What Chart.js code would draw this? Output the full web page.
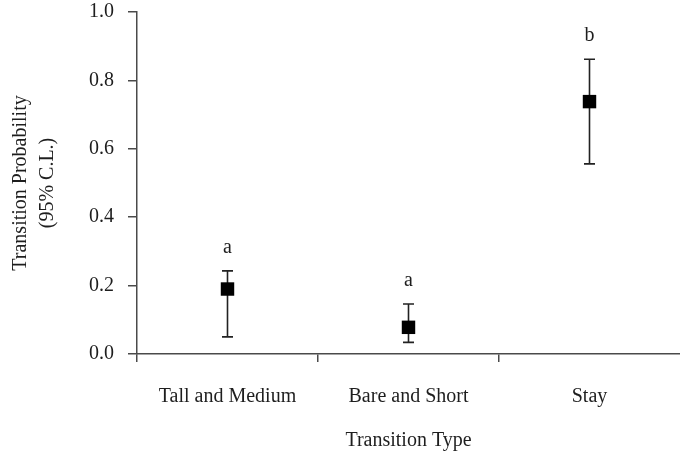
<!DOCTYPE html>
<html>
<head>
<meta charset="utf-8">
<script src="https://cdn.jsdelivr.net/npm/chart.js@4"></script>
<style>
  html, body { margin: 0; padding: 0; background: #fff; }
  #wrap { width: 680px; height: 454px; }
</style>
</head>
<body>
<div id="wrap"><canvas id="c" width="680" height="454"></canvas></div>
<script>
const categories = ["Tall and Medium", "Bare and Short", "Stay"];
const probability = [0.19, 0.078, 0.738];
const upperCL = [0.243, 0.146, 0.862];
const lowerCL = [0.05, 0.034, 0.556];
const groupLetters = ["a", "a", "b"];
const yTicks = [0.0, 0.2, 0.4, 0.6, 0.8, 1.0];

const FONT = "'Liberation Serif', 'Times New Roman', serif";
const AXIS = "#4a4a4a";
const TEXT = "#1e1e1e";

const errorBars = {
  id: 'errorBars',
  beforeDatasetsDraw(chart) {
    const ctx = chart.ctx;
    const xs = chart.scales.x, ys = chart.scales.y;
    ctx.save();
    ctx.strokeStyle = "#222";
    ctx.lineWidth = 1.6;
    categories.forEach((c, i) => {
      const x = xs.getPixelForValue(i);
      const yu = ys.getPixelForValue(upperCL[i]);
      const yl = ys.getPixelForValue(lowerCL[i]);
      ctx.beginPath();
      ctx.moveTo(x, yu); ctx.lineTo(x, yl);
      ctx.moveTo(x - 5.5, yu); ctx.lineTo(x + 5.5, yu);
      ctx.moveTo(x - 5.5, yl); ctx.lineTo(x + 5.5, yl);
      ctx.stroke();
    });
    ctx.restore();
  },
  afterDatasetsDraw(chart) {
    const ctx = chart.ctx;
    const xs = chart.scales.x, ys = chart.scales.y;
    ctx.save();
    ctx.fillStyle = TEXT;
    ctx.font = "20px " + FONT;
    ctx.textAlign = "center";
    ctx.textBaseline = "alphabetic";
    categories.forEach((c, i) => {
      const x = xs.getPixelForValue(i);
      const yu = ys.getPixelForValue(upperCL[i]);
      ctx.fillText(groupLetters[i], x, yu - 18);
    });
    ctx.restore();
  }
};

new Chart(document.getElementById('c'), {
  type: 'line',
  data: {
    labels: categories,
    datasets: [{
      data: probability,
      showLine: false,
      pointStyle: 'rect',
      pointRadius: 9.5,
      pointHoverRadius: 9.5,
      backgroundColor: '#000',
      borderColor: '#000',
      borderWidth: 0,
      clip: false
    }]
  },
  options: {
    responsive: false,
    animation: false,
    events: [],
    layout: { autoPadding: false, padding: { top: 12, right: 0, left: 0, bottom: 0 } },
    plugins: { legend: { display: false }, tooltip: { enabled: false } },
    scales: {
      x: {
        type: 'category',
        offset: true,
        grid: {
          offset: true,
          drawOnChartArea: false,
          drawTicks: true,
          tickLength: 8,
          color: ctx => (ctx.type === 'tick' ? AXIS : 'rgba(0,0,0,0)'),
          lineWidth: 1.5
        },
        border: { display: true, color: AXIS, width: 1.5 },
        ticks: {
          color: TEXT,
          font: { family: FONT, size: 20 },
          padding: 23,
          maxRotation: 0
        },
        title: {
          display: true,
          text: "Transition Type",
          color: TEXT,
          font: { family: FONT, size: 20, lineHeight: 1.2 },
          padding: { top: 0, bottom: 1 }
        },
        afterFit(s) { s.height = 100; s.paddingLeft = 0; s.paddingRight = 0; }
      },
      y: {
        min: 0,
        max: 1,
        afterBuildTicks(s) { s.ticks = yTicks.map(v => ({ value: v })); },
        grid: {
          drawOnChartArea: false,
          drawTicks: true,
          tickLength: 9,
          color: AXIS,
          lineWidth: 1.5
        },
        border: { display: true, color: AXIS, width: 1.5 },
        ticks: {
          color: TEXT,
          font: { family: FONT, size: 20 },
          padding: 14,
          callback: v => Number(v).toFixed(1)
        },
        title: {
          display: true,
          text: ["Transition Probability", "(95% C.L.)"],
          color: TEXT,
          font: { family: FONT, size: 20, lineHeight: 1.35 },
          padding: { top: 7, bottom: 0 }
        },
        afterFit(s) { s.width = 137; s.paddingTop = 0; s.paddingBottom = 0; }
      }
    }
  },
  plugins: [errorBars]
});
</script>
</body>
</html>
